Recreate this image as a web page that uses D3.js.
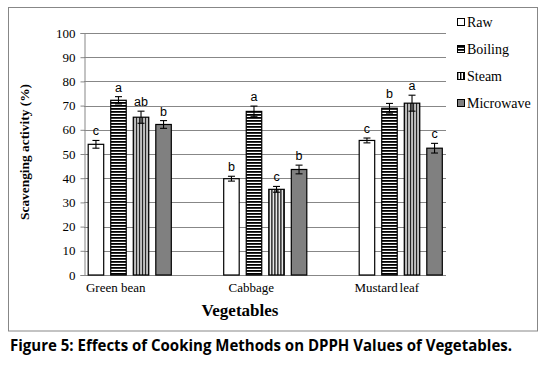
<!DOCTYPE html>
<html>
<head>
<meta charset="utf-8">
<script src="https://cdn.jsdelivr.net/npm/d3@7"></script>
<style>
  body { margin: 0; background: #fff; }
  svg { display: block; }
  .tick-lbl { font-family: "Liberation Serif", "Times New Roman", serif; font-size: 13px; fill: #000; }
  .letter   { font-family: "Liberation Sans", Arial, sans-serif; font-size: 12.5px; fill: #000; }
</style>
</head>
<body>
<svg id="chart" width="547" height="369"></svg>
<script>
// ---- data ----
const vegetables = ['Green bean', 'Cabbage', 'Mustard leaf'];
const methods    = ['Raw', 'Boiling', 'Steam', 'Microwave'];

// scavenging activity (%) per method, in vegetable order
const raw       = [54.0, 39.8, 55.6];
const boiling   = [72.2, 67.6, 68.9];
const steam     = [65.2, 35.4, 71.0];
const microwave = [62.2, 43.6, 52.4];

// error bar half-widths
const rawErr       = [1.6, 1.0, 1.0];
const boilingErr   = [1.5, 2.2, 2.0];
const steamErr     = [2.5, 1.2, 3.3];
const microwaveErr = [1.6, 1.8, 2.0];

// significance letters
const rawSig       = ['c', 'b', 'c'];
const boilingSig   = ['a', 'a', 'b'];
const steamSig     = ['ab', 'c', 'a'];
const microwaveSig = ['b', 'b', 'c'];

const yTicks = d3.range(0, 101, 10);

const series = [
  { name: 'Raw',       vals: raw,       err: rawErr,       sig: rawSig },
  { name: 'Boiling',   vals: boiling,   err: boilingErr,   sig: boilingSig },
  { name: 'Steam',     vals: steam,     err: steamErr,     sig: steamSig },
  { name: 'Microwave', vals: microwave, err: microwaveErr, sig: microwaveSig },
];

const svg = d3.select('#chart');
const GRID = '#878787';

// patterns for boiling (horizontal) and steam (vertical)
const defs = svg.append('defs');
defs.append('pattern').attr('id', 'hstripe').attr('patternUnits', 'userSpaceOnUse')
  .attr('width', 4).attr('height', 3)
  .call(p => {
    p.append('rect').attr('width', 4).attr('height', 3).attr('fill', '#fff');
    p.append('rect').attr('width', 4).attr('height', 1.8).attr('fill', '#000');
  });
defs.append('pattern').attr('id', 'vstripe').attr('patternUnits', 'userSpaceOnUse')
  .attr('width', 3).attr('height', 4)
  .call(p => {
    p.append('rect').attr('width', 3).attr('height', 4).attr('fill', '#fff');
    p.append('rect').attr('width', 1.4).attr('height', 4).attr('fill', '#000');
  });

const FILL = { Raw: '#fff', Boiling: 'url(#hstripe)', Steam: 'url(#vstripe)', Microwave: '#808080' };

// outer frame
svg.append('rect').attr('x', 8.5).attr('y', 7.5).attr('width', 529).attr('height', 323.5)
  .attr('fill', 'none').attr('stroke', GRID).attr('stroke-width', 1);

// scales
const plotL = 84, plotR = 446;
const y = d3.scaleLinear().domain([0, 100]).range([275, 33]);
const x0 = d3.scaleBand().domain(vegetables).range([62, 468.5]).padding(0);
const x1 = d3.scalePoint().domain(methods).range([-33.8, 33.8]);
const barW = 15.5;

// gridlines
svg.append('g').selectAll('line').data(yTicks.filter(t => t > 0)).join('line')
  .attr('x1', plotL).attr('x2', plotR)
  .attr('y1', d => Math.round(y(d)) + 0.5).attr('y2', d => Math.round(y(d)) + 0.5)
  .attr('stroke', GRID);

// y axis
const yAxis = svg.append('g').attr('transform', `translate(${plotL + 0.5},0)`)
  .call(d3.axisLeft(y).tickValues(yTicks).tickSize(4).tickPadding(5).tickFormat(d3.format('d')));
yAxis.select('.domain').attr('stroke', GRID);
yAxis.selectAll('.tick line').attr('stroke', GRID);
yAxis.selectAll('.tick text').attr('class', 'tick-lbl').attr('font-family', null).attr('font-size', null);

// x baseline
svg.append('line').attr('x1', plotL).attr('x2', plotR)
  .attr('y1', y(0) + 0.5).attr('y2', y(0) + 0.5).attr('stroke', GRID);

// bars
const groups = svg.append('g').selectAll('g').data(vegetables).join('g')
  .attr('transform', d => `translate(${x0(d) + x0.bandwidth() / 2},0)`);

groups.each(function(veg, vi) {
  const g = d3.select(this);
  series.forEach(s => {
    const cx = x1(s.name);
    const v = s.vals[vi], e = s.err[vi];
    g.append('rect')
      .attr('x', cx - barW / 2).attr('y', y(v))
      .attr('width', barW).attr('height', y(0) - y(v))
      .attr('fill', FILL[s.name]).attr('stroke', '#000').attr('stroke-width', 1.2);
    // error bar
    const eb = g.append('g').attr('stroke', '#000').attr('stroke-width', 1.1);
    eb.append('line').attr('x1', cx).attr('x2', cx).attr('y1', y(v - e)).attr('y2', y(v + e));
    eb.append('line').attr('x1', cx - 3.5).attr('x2', cx + 3.5).attr('y1', y(v + e)).attr('y2', y(v + e));
    eb.append('line').attr('x1', cx - 3.5).attr('x2', cx + 3.5).attr('y1', y(v - e)).attr('y2', y(v - e));
    // letter
    g.append('text').attr('class', 'letter')
      .attr('x', cx).attr('y', y(v + e) - 5)
      .attr('text-anchor', 'middle').text(s.sig[vi]);
  });
});

// category labels
svg.append('g').selectAll('text').data(vegetables).join('text')
  .attr('class', 'tick-lbl')
  .attr('x', d => x0(d) + x0.bandwidth() / 2 - 14)
  .attr('y', 292).attr('text-anchor', 'middle')
  .attr('word-spacing', d => d === 'Mustard leaf' ? '-1.5px' : null)
  .text(d => d);

// axis titles
svg.append('text')
  .attr('x', 240).attr('y', 316).attr('text-anchor', 'middle')
  .style('font-family', '"Liberation Serif", serif').style('font-weight', 'bold').style('font-size', '17px')
  .text('Vegetables');

svg.append('text')
  .attr('transform', 'translate(29,152) rotate(-90)').attr('text-anchor', 'middle')
  .style('font-family', '"Liberation Serif", serif').style('font-weight', 'bold').style('font-size', '13.5px')
  .attr('textLength', 136).attr('lengthAdjust', 'spacingAndGlyphs')
  .text('Scavenging activity (%)');

// legend
const legend = svg.append('g').selectAll('g').data(methods).join('g')
  .attr('transform', (d, i) => `translate(457,${22 + i * 27})`);
legend.append('rect').attr('x', 0.5).attr('y', -3.5).attr('width', 7).attr('height', 7)
  .attr('fill', d => FILL[d]).attr('stroke', '#000').attr('stroke-width', 1);
legend.append('text').attr('class', 'tick-lbl').style('font-size', '14px')
  .attr('x', 10).attr('y', 5).text(d => d);

// caption
svg.append('text')
  .attr('x', 10).attr('y', 350.5)
  .style('font-family', '"Open Sans", sans-serif').style('font-weight', 'bold').style('font-size', '15.5px')
  .attr('textLength', 502).attr('lengthAdjust', 'spacingAndGlyphs')
  .text('Figure 5: Effects of Cooking Methods on DPPH Values of Vegetables.');
</script>
</body>
</html>
